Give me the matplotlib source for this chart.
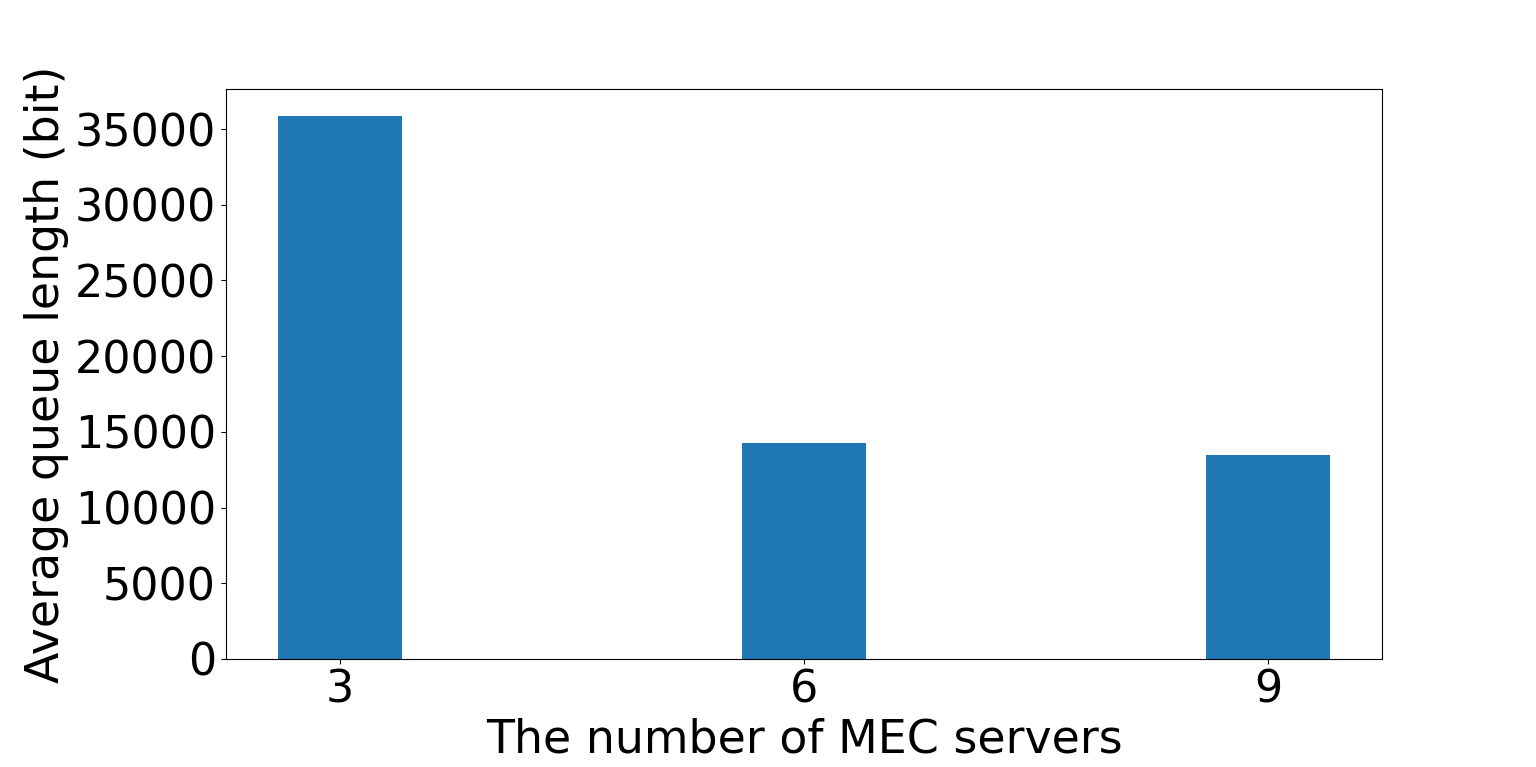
import matplotlib

matplotlib.use("Agg")
import matplotlib.pyplot as plt
from matplotlib.ticker import MultipleLocator

# values
servers = [3, 6, 9]
queue_len = [35860, 14230, 13500]

fig = plt.figure(figsize=(15.36, 7.67), dpi=100)
ax = fig.add_axes([0.147, 0.141, 0.753, 0.743])
ax.bar(servers, queue_len, width=0.8, color="#1f77b4")
ax.set_xticks(servers)
ax.yaxis.set_major_locator(MultipleLocator(5000))
ax.set_xlabel("The number of MEC servers", fontsize=33)
ax.set_ylabel("Average queue length (bit)", fontsize=33)
ax.tick_params(labelsize=32)

fig.savefig("out.png", dpi=100)
